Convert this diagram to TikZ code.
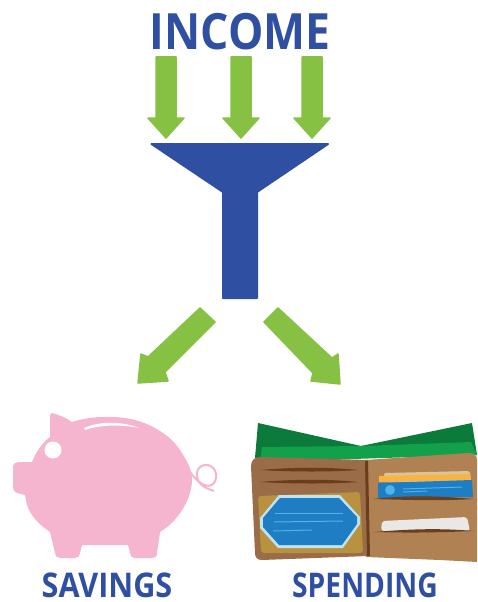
\documentclass[tikz,border=0pt]{standalone}
\usepackage{fontspec}
\setmainfont{Open Sans}
\definecolor{fblue}{HTML}{2F4FA2}
\definecolor{agreen}{HTML}{86C143}
\definecolor{pigpink}{HTML}{F6B5CE}
\definecolor{dkgreen}{HTML}{0B7A3B}
\definecolor{ltgreen}{HTML}{12A04B}
\definecolor{wleft}{HTML}{9A6C47}
\definecolor{wright}{HTML}{B08253}
\definecolor{slit}{HTML}{6A3D1B}
\definecolor{tan}{HTML}{B8923F}
\definecolor{cardblue}{HTML}{1F7DC4}
\definecolor{cardline}{HTML}{4FB3E6}
\definecolor{cardedge}{HTML}{BFE3F2}
\definecolor{cream}{HTML}{D9C59A}
\definecolor{orangec}{HTML}{F9B342}
\definecolor{whitec}{HTML}{E9E8E6}
\tikzset{
  x=1pt,y=-1pt,
  label text/.style={text=fblue, inner sep=0pt, anchor=base},
  green arrow/.style={fill=agreen, draw=agreen, line width=1.5pt, line join=round},
  funnel/.style={fill=fblue, draw=fblue, line width=2pt, line join=round},
  pig/.style={fill=pigpink},
  slit line/.style={fill=slit},
  card line/.style={draw=cardline, line width=1pt},
}
\begin{document}
\begin{tikzpicture}
\useasboundingbox (0,0) rectangle (477,602);
% labels
\node[label text, font=\fontsize{50}{50}\selectfont\bfseries, xscale=.89] (income) at (240,50) {INCOME};
\node[label text, font=\fontsize{34}{34}\selectfont\bfseries, xscale=.9] (savings) at (107,597) {SAVINGS};
\node[label text, font=\fontsize{34}{34}\selectfont\bfseries, xscale=.83] (spending) at (365,597) {SPENDING};
% top arrows
\foreach \c in {166,241,312}{
  \draw[green arrow] (\c-10,57) -- (\c+10,57) -- (\c+10,118) -- (\c+18,118) -- (\c,138) -- (\c-18,118) -- (\c-10,118) -- cycle;
}
% funnel
\draw[funnel] (151.5,144) -- (328,144) -- (257,192) -- (257,298) -- (223,298) -- (223,192) -- cycle;
% diagonal arrows
\draw[green arrow] (200,308) -- (215,322) -- (165,372) -- (168,381) -- (138,383) -- (141,354) -- (148,357) -- cycle;
\draw[green arrow] (278,308) -- (264,322) -- (313,373) -- (311,381) -- (340,384) -- (338,354) -- (332,358) -- cycle;
% pig
\draw[line width=2pt, draw=pigpink] (190,472) .. controls (198,483) and (208,490) .. (214,483) .. controls (219,476) and (215,464) .. (205,465) .. controls (195,466) and (194,480) .. (203,486) .. controls (207,489) and (212,490) .. (214,491);
\fill[pig] (52,413) .. controls (60,415) and (68,419) .. (72,422)
  .. controls (90,416) and (115,415) .. (135,420)
  .. controls (148,423) and (170,434) .. (180,450)
  .. controls (188,462) and (192,470) .. (192,480)
  .. controls (192,497) and (180,520) .. (160,532)
  -- (157,553) .. controls (157,557) and (155,558) .. (152,558)
  -- (136,558) .. controls (132,558) and (130,556) .. (130,553)
  -- (128,545) -- (82,545) -- (80,553) .. controls (80,556) and (78,558) .. (75,558)
  -- (60,558) .. controls (57,558) and (55,556) .. (55,553)
  -- (50,532) .. controls (40,525) and (31,517) .. (27,505)
  -- (25,495) -- (17,493) .. controls (14,492) and (13,490) .. (13,487)
  -- (13,468) .. controls (13,464) and (15,462) .. (18,462)
  -- (32,462) .. controls (36,452) and (42,443) .. (50,437)
  -- (50,416) .. controls (50,414) and (51,413) .. (52,413) -- cycle;
\fill[white] (53,450) circle (8.5);
\fill[white] (84,428) .. controls (100,421) and (122,421) .. (139,428) .. controls (122,424.5) and (100,424.5) .. (85,430) -- cycle;
% wallet back
\fill[dkgreen] (258,423) -- (361,446) -- (472,423) -- (477,455) -- (255,458) -- cycle;
\fill[ltgreen] (262,447) -- (361,446) -- (471,442) -- (477,455) -- (260,462) -- cycle;
% wallet right
\fill[wright] (366,460) -- (468,453) .. controls (474,453) and (477,455) .. (477,460) -- (477,562) -- (440,560) -- (366,557) -- cycle;
% wallet left
\fill[wleft] (260,457) -- (368,460) -- (368,556) -- (262,560) .. controls (257,560) and (255,557) .. (255,553) -- (251,466) .. controls (251,460) and (255,457) .. (260,457) -- cycle;
% spine
\fill[slit] (365,461) -- (368,461) -- (370,556) -- (367,556) -- cycle;
\fill[slit] (260,470) .. controls (295,467) and (330,467) .. (358,470) .. controls (330,472) and (295,472) .. (260,470) -- cycle;
\fill[slit] (260,482) .. controls (295,479) and (330,479) .. (358,482) .. controls (330,484) and (295,484) .. (260,482) -- cycle;
% tan patch + id card
\fill[tan, rounded corners=3pt] (258,496) -- (360,492) -- (363,553) -- (261,553) -- cycle;
\fill[cardedge] (260,518) -- (279,495) -- (340,495) -- (360,517) -- (360,524) -- (343,548) -- (278,548) -- (260,528) -- cycle;
\fill[cardblue] (263,518) -- (280,498) -- (339,498) -- (357,517) -- (357,524) -- (342,545) -- (279,545) -- (263,527) -- cycle;
\draw[card line] (275,513) -- (343,513);
\draw[card line] (274,522) -- (343,521);
\draw[card line] (273,531) -- (312,530);
% right pocket cards
\fill[cream, rounded corners=2pt] (384,473) -- (470,471) -- (471,482) -- (384,482) -- cycle;
\fill[orangec] (379,476) -- (470,474) -- (471,480) -- (379,482) -- cycle;
\fill[cardblue] (378,483) -- (472,480) -- (473,497) -- (378,498) -- cycle;
\fill[cardline] (390,490) circle (5);
\draw[card line] (403,489) -- (462,487);
\draw[card line] (403,492) -- (427,491);
\fill[slit] (373,499) .. controls (410,495) and (440,496) .. (474,499) .. controls (440,501) and (410,500) .. (373,499) -- cycle;
\fill[whitec, rounded corners=3pt] (381,531) -- (382,521) -- (467,517) -- (470,531) -- cycle;
\fill[slit] (374,532) .. controls (410,529) and (440,528) .. (474,531) .. controls (440,532.5) and (410,533) .. (374,532) -- cycle;
\end{tikzpicture}
\end{document}
